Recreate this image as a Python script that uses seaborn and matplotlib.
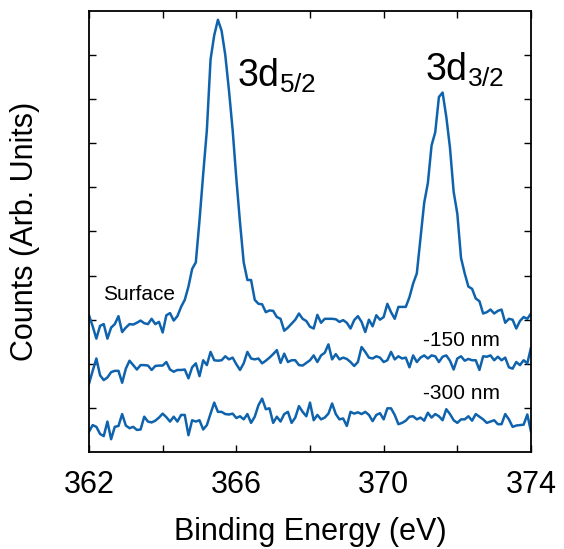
import numpy as np
import pandas as pd
import matplotlib
matplotlib.use('Agg')
import matplotlib.pyplot as plt
import seaborn as sns

# Binding energy grid, 0.1 eV steps (362.0 ... 374.0)
energy = np.round(np.arange(362.0, 374.05, 0.1), 1)

# Surface spectrum (arb. units)
surface = [
    3.10, 2.85, 2.57, 2.86, 2.90, 2.57, 2.82, 2.90, 3.08, 2.72,
    2.82, 2.90, 2.89, 2.93, 2.98, 2.92, 2.90, 3.02, 2.90, 2.95,
    2.71, 3.10, 3.15, 2.98, 3.08, 3.29, 3.45, 3.75, 4.15, 4.30,
    5.25, 6.30, 7.30, 8.90, 9.45, 9.80, 9.55, 9.00, 8.20, 7.30,
    6.20, 5.20, 4.30, 3.90, 3.90, 3.45, 3.36, 3.35, 3.17, 3.21,
    3.20, 3.06, 3.02, 2.75, 2.82, 2.91, 3.00, 3.14, 3.02, 2.97,
    2.84, 2.80, 3.11, 2.93, 3.02, 3.02, 3.02, 3.01, 2.95, 2.99,
    2.93, 2.80, 2.99, 3.08, 2.95, 2.72, 3.00, 2.85, 3.10, 3.00,
    3.06, 3.36, 3.17, 3.02, 3.29, 3.29, 3.29, 3.51, 3.82, 4.05,
    4.85, 5.65, 6.10, 6.95, 7.25, 8.05, 8.15, 7.60, 6.90, 5.90,
    5.40, 4.40, 4.05, 3.75, 3.70, 3.48, 3.42, 3.14, 3.17, 3.23,
    3.14, 3.20, 3.23, 2.93, 3.02, 3.00, 2.80, 2.97, 3.06, 3.02,
    3.14,
]

# -150 nm spectrum
depth_150 = [
    1.55, 1.84, 2.12, 1.74, 1.63, 1.69, 1.81, 1.84, 1.84, 1.57,
    1.89, 2.07, 1.97, 1.87, 1.97, 1.97, 1.96, 1.86, 1.95, 1.96,
    1.96, 2.04, 1.87, 1.82, 1.86, 1.86, 1.87, 1.67, 1.92, 2.01,
    1.72, 2.08, 1.97, 2.27, 2.08, 2.07, 2.08, 2.17, 2.10, 2.14,
    1.99, 1.86, 2.01, 2.27, 2.12, 2.10, 2.12, 2.01, 2.07, 2.14,
    2.22, 2.31, 2.02, 2.23, 2.04, 2.08, 2.08, 1.97, 1.96, 2.02,
    2.08, 2.19, 2.04, 2.19, 2.25, 2.44, 2.10, 2.22, 2.10, 2.14,
    2.11, 2.04, 1.95, 2.04, 2.38, 2.27, 2.14, 2.12, 2.17, 2.14,
    2.04, 2.08, 2.27, 2.10, 2.17, 2.12, 2.14, 1.92, 2.19, 2.04,
    2.14, 2.19, 2.12, 2.19, 2.17, 2.04, 2.16, 2.19, 2.07, 1.87,
    2.12, 2.17, 2.07, 2.11, 2.08, 2.08, 1.86, 2.17, 2.16, 2.19,
    2.08, 2.16, 2.08, 2.14, 1.92, 1.89, 2.04, 1.97, 2.08, 2.01,
    2.37,
]

# -300 nm spectrum
depth_300 = [
    0.46, 0.61, 0.57, 0.41, 0.36, 0.69, 0.29, 0.57, 0.59, 0.86,
    0.60, 0.54, 0.57, 0.50, 0.51, 0.80, 0.69, 0.67, 0.71, 0.78,
    0.87, 0.79, 0.69, 0.80, 0.69, 0.84, 0.84, 0.38, 0.72, 0.69,
    0.72, 0.51, 0.61, 0.87, 1.12, 0.91, 0.91, 0.86, 0.85, 0.87,
    0.77, 0.81, 0.74, 0.86, 0.66, 0.80, 1.06, 1.21, 0.97, 0.99,
    0.66, 0.80, 0.69, 0.86, 0.91, 0.66, 0.78, 1.04, 0.91, 0.81,
    1.12, 0.72, 0.84, 0.74, 0.78, 0.87, 1.10, 0.86, 0.74, 0.76,
    0.59, 0.91, 0.87, 0.90, 0.86, 0.91, 0.84, 0.70, 0.84, 0.88,
    0.74, 0.99, 0.99, 0.84, 0.63, 0.66, 0.71, 0.80, 0.81, 0.74,
    0.78, 0.71, 0.89, 0.78, 0.86, 0.81, 0.72, 0.97, 0.86, 0.72,
    0.66, 0.74, 0.74, 0.81, 0.71, 0.86, 0.80, 0.74, 0.66, 0.69,
    0.72, 0.63, 0.63, 0.86, 0.74, 0.57, 0.60, 0.61, 0.62, 0.85,
    0.46,
]

series_names = ['Surface', '-150 nm', '-300 nm']
x_ticks = [362, 364, 366, 368, 370, 372, 374]
x_labels = ['362', '', '366', '', '370', '', '374']

df = pd.concat([
    pd.DataFrame({'Energy': energy, 'Counts': surface, 'Depth': series_names[0]}),
    pd.DataFrame({'Energy': energy, 'Counts': depth_150, 'Depth': series_names[1]}),
    pd.DataFrame({'Energy': energy, 'Counts': depth_300, 'Depth': series_names[2]}),
])

sns.set_style('ticks')
plt.rcParams['font.family'] = ['Liberation Sans', 'DejaVu Sans']
plt.rcParams['text.color'] = 'black'
plt.rcParams['axes.labelcolor'] = 'black'
plt.rcParams['mathtext.fontset'] = 'custom'
plt.rcParams['mathtext.rm'] = 'Liberation Sans'
plt.rcParams['mathtext.it'] = 'Liberation Sans'

blue = '#0f63ad'
fig = plt.figure(figsize=(5.64, 5.49), dpi=100)
ax = fig.add_axes([0.1578, 0.1767, 0.7837, 0.8033])

for name in series_names:
    sns.lineplot(data=df[df['Depth'] == name], x='Energy', y='Counts',
                 color=blue, linewidth=1.8, ax=ax, legend=False)

ax.set_xlim(362, 374)
ax.set_ylim(0, 10)
ax.set_xticks(x_ticks)
ax.set_xticklabels(x_labels)
ax.set_yticks(range(1, 10))
ax.set_yticklabels([])
ax.tick_params(direction='in', length=5, width=1, top=True, right=True,
               labelsize=22, colors='black', labelcolor='black', pad=13)
for sp in ax.spines.values():
    sp.set_linewidth(1.3)
    sp.set_color('black')

ax.set_xlabel('Binding Energy (eV)', fontsize=22, labelpad=12)
ax.set_ylabel('Counts (Arb. Units)', fontsize=22, labelpad=22)

ax.text(366.02, 8.28, r'3d$_{\mathrm{5/2}}$', fontsize=27, ha='left', va='baseline')
ax.text(371.12, 8.42, r'3d$_{\mathrm{3/2}}$', fontsize=27, ha='left', va='baseline')
ax.text(362.38, 3.45, 'Surface', fontsize=15, ha='left', va='baseline')
ax.text(371.07, 2.40, '-150 nm', fontsize=15, ha='left', va='baseline')
ax.text(371.07, 1.21, '-300 nm', fontsize=15, ha='left', va='baseline')

plt.savefig('out.png', dpi=100)
plt.close()
